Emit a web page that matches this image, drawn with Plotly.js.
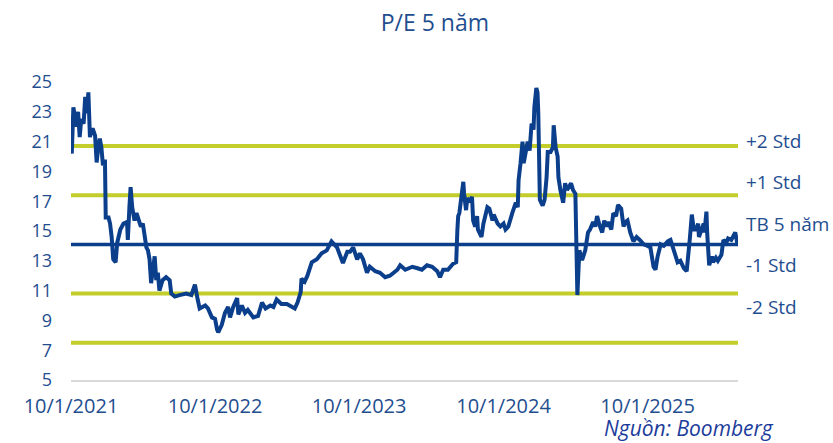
<!DOCTYPE html>
<html>
<head>
<meta charset="utf-8">
<script src="https://cdn.plot.ly/plotly-3.0.1.min.js"></script>
<style>html,body{margin:0;padding:0;background:#fff;}#chart{width:833px;height:443px;}</style>
</head>
<body>
<div id="chart"></div>
<script>
// P/E series (dates, values)
var dates = [
'2021-10-01','2021-10-03','2021-10-07','2021-10-11','2021-10-15','2021-10-19','2021-10-23','2021-10-27',
'2021-11-02','2021-11-06','2021-11-10','2021-11-14','2021-11-18','2021-11-22','2021-11-26',
'2021-12-01','2021-12-05','2021-12-09','2021-12-13','2021-12-17','2021-12-21','2021-12-26','2021-12-28',
'2022-01-04','2022-01-08','2022-01-12','2022-01-16','2022-01-22','2022-01-26',
'2022-02-03','2022-02-11','2022-02-20','2022-02-22','2022-02-26',
'2022-03-01','2022-03-05','2022-03-11','2022-03-16','2022-03-23','2022-03-27',
'2022-04-01','2022-04-06','2022-04-10','2022-04-14','2022-04-18','2022-04-22','2022-04-26',
'2022-05-01','2022-05-05','2022-05-09','2022-05-13','2022-05-21','2022-05-30',
'2022-06-08','2022-06-12','2022-06-21',
'2022-07-03','2022-07-20',
'2022-08-02','2022-08-11','2022-08-18','2022-08-23',
'2022-09-06','2022-09-13','2022-09-23',
'2022-10-01','2022-10-06','2022-10-09','2022-10-18','2022-10-26',
'2022-11-03','2022-11-08','2022-11-16','2022-11-26','2022-11-29',
'2022-12-08','2022-12-16','2022-12-23',
'2023-01-06','2023-01-18','2023-01-28',
'2023-02-06','2023-02-18','2023-02-26',
'2023-03-06','2023-03-18',
'2023-04-01','2023-04-13','2023-04-21','2023-04-28',
'2023-05-06','2023-05-08','2023-05-16','2023-05-23',
'2023-06-03','2023-06-16','2023-06-28',
'2023-07-11','2023-07-18','2023-07-23',
'2023-08-06','2023-08-13','2023-08-21',
'2023-09-01','2023-09-08','2023-09-16','2023-09-26',
'2023-10-03','2023-10-11','2023-10-21','2023-10-28',
'2023-11-11','2023-11-23',
'2023-12-06','2023-12-18',
'2024-01-06','2024-01-13','2024-01-26',
'2024-02-13','2024-02-26',
'2024-03-08','2024-03-21',
'2024-04-03','2024-04-16','2024-04-23',
'2024-05-01','2024-05-13','2024-05-26',
'2024-06-03','2024-06-06','2024-06-08','2024-06-11','2024-06-18','2024-06-21','2024-06-23','2024-06-28',
'2024-07-01','2024-07-08','2024-07-13','2024-07-16','2024-07-21','2024-07-26','2024-07-28',
'2024-08-06','2024-08-11','2024-08-16','2024-08-21','2024-08-26',
'2024-09-03','2024-09-06','2024-09-16','2024-09-23',
'2024-10-01','2024-10-06','2024-10-13','2024-10-23',
'2024-11-01','2024-11-06','2024-11-08','2024-11-13','2024-11-18','2024-11-21','2024-11-26',
'2024-12-01','2024-12-06','2024-12-11','2024-12-16','2024-12-18','2024-12-23','2024-12-26','2024-12-28',
'2025-01-01','2025-01-08','2025-01-13','2025-01-18','2025-01-21','2025-01-28',
'2025-02-03','2025-02-05','2025-02-10','2025-02-15','2025-02-17','2025-02-22',
'2025-03-01','2025-03-06','2025-03-11','2025-03-21','2025-03-26',
'2025-04-01','2025-04-03','2025-04-06','2025-04-11','2025-04-18','2025-04-26',
'2025-05-03','2025-05-08','2025-05-16','2025-05-21','2025-05-26',
'2025-06-01','2025-06-08','2025-06-13','2025-06-18','2025-06-23',
'2025-07-01','2025-07-06','2025-07-13','2025-07-18','2025-07-26',
'2025-08-01','2025-08-06','2025-08-11','2025-08-18','2025-08-26',
'2025-09-03','2025-09-11','2025-09-21',
'2025-10-01','2025-10-08','2025-10-16','2025-10-21','2025-10-26',
'2025-11-03','2025-11-11','2025-11-21','2025-11-28',
'2025-12-06','2025-12-11','2025-12-16','2025-12-23',
'2026-01-01','2026-01-08','2026-01-11','2026-01-16','2026-01-21','2026-01-26',
'2026-02-01','2026-02-06','2026-02-08','2026-02-15','2026-02-20','2026-02-22','2026-02-27',
'2026-03-01','2026-03-06','2026-03-13','2026-03-16','2026-03-23','2026-03-28',
'2026-04-06','2026-04-11','2026-04-18','2026-04-23',
'2026-05-01','2026-05-06','2026-05-11','2026-05-16','2026-05-18'
];
var pe = [
21.0,20.2,23.3,22.5,22.0,23.0,21.3,22.5,
22.2,24.0,22.9,24.3,21.3,21.8,21.8,
21.4,19.6,20.6,21.2,20.6,19.4,19.8,15.9,
15.9,15.5,14.6,13.1,12.9,14.2,
15.1,15.5,15.6,14.4,16.6,
17.95,16.6,15.7,16.2,15.7,15.3,
15.5,14.6,13.9,13.7,13.1,11.5,12.4,
13.3,11.7,12.2,11.0,11.7,11.9,
11.7,10.8,10.6,
10.7,10.8,
10.7,11.4,10.4,9.8,
10.0,9.8,9.2,
9.1,8.4,8.2,8.7,9.5,
9.9,9.2,9.9,10.5,9.4,
10.0,9.5,9.7,
9.2,9.3,10.2,
9.8,10.0,9.9,
10.4,10.1,
10.1,9.9,9.8,10.2,
10.9,11.8,11.6,12.0,
12.9,13.1,13.5,
13.7,14.1,14.3,
13.9,13.4,12.85,
13.6,13.6,13.9,13.1,
13.5,13.1,12.2,12.6,
12.3,12.2,
11.9,12.0,
12.4,12.7,12.4,
12.6,12.5,
12.4,12.7,
12.6,12.3,11.9,
12.4,12.4,12.8,
12.9,15.1,16.0,16.2,17.5,18.3,17.5,16.4,
17.2,16.95,17.3,15.7,15.3,16.0,15.1,
14.6,15.5,16.0,16.6,16.5,
15.7,16.1,15.5,15.3,
15.5,15.1,15.3,16.2,
16.9,16.6,18.4,19.55,21.0,19.55,20.4,
21.0,20.4,22.2,21.8,23.3,24.6,24.3,22.9,
17.1,16.7,17.1,18.6,20.3,20.3,
20.6,22.1,20.6,20.0,18.6,17.75,
16.9,18.2,17.75,18.2,17.75,
17.5,13.9,10.7,13.7,13.05,13.7,
14.9,15.1,15.6,15.3,16.0,
15.4,14.9,15.7,15.3,15.6,
15.1,16.2,16.0,16.75,16.5,
15.3,15.6,15.7,14.9,14.3,
14.6,14.4,14.1,
14.0,13.9,12.6,12.4,13.25,
14.1,14.0,14.3,14.4,
13.8,13.25,12.9,13.0,
12.5,12.3,13.4,14.5,16.1,15.1,
15.1,15.5,14.6,15.1,15.5,14.9,16.3,
14.8,12.7,13.3,12.9,13.2,13.0,
13.4,14.4,14.2,14.5,
14.4,14.6,14.9,14.2,14.6
];
// Reference levels: +2 Std, +1 Std, 5-year mean, -1 Std, -2 Std
var levelNames = ['+2 Std', '+1 Std', 'TB 5 năm', '-1 Std', '-2 Std'];
var levelValues = [20.7, 17.4, 14.1, 10.8, 7.5];
var xTickLabelStart = '2021-10-01';

var BLUE = '#0b3f8c';
var GREEN = '#c3cd2c';
var TEXT = '#1f4e8f';
var FONT = '"Open Sans", "Noto Sans", sans-serif';

var first = dates[0], last = dates[dates.length - 1];
var traces = [];
levelValues.forEach(function (v, i) {
  traces.push({
    x: [first, last], y: [v, v], type: 'scatter', mode: 'lines',
    line: {color: i === 2 ? BLUE : GREEN, width: i === 2 ? 3.5 : 4},
    hoverinfo: 'skip', showlegend: false
  });
});
traces.push({
  x: dates, y: pe, type: 'scatter', mode: 'lines',
  line: {color: BLUE, width: 4, shape: 'linear'}, showlegend: false
});

var labelY = [0.803, 0.665, 0.523, 0.386, 0.246];
var annotations = levelNames.map(function (t, i) {
  return {
    text: t, xref: 'paper', yref: 'paper', x: 1, y: labelY[i],
    xanchor: 'left', yanchor: 'middle', xshift: 6, showarrow: false,
    font: {family: FONT, size: 19, color: TEXT}
  };
});
annotations.push({
  text: '<i>Nguồn: Boomberg</i>', xref: 'paper', yref: 'paper',
  x: 0.797, y: -0.211, xanchor: 'left', yanchor: 'bottom', showarrow: false,
  borderpad: 0,
  font: {family: FONT, size: 21, color: '#1c3c9c'}
});

var layout = {
  width: 833, height: 443,
  margin: {l: 71, r: 95, t: 82, b: 63},
  paper_bgcolor: '#ffffff', plot_bgcolor: '#ffffff',
  title: {
    text: 'P/E 5 năm', xref: 'container', yref: 'container',
    x: 0.522, xanchor: 'center', y: 0.948, yanchor: 'middle',
    font: {family: FONT, size: 23, color: TEXT}
  },
  xaxis: {
    type: 'date', range: [first, last],
    tick0: xTickLabelStart, dtick: 'M12', tickformat: '%-m/%-d/%Y',
    showgrid: false, zeroline: false, showline: true,
    linecolor: '#d9d9d9', linewidth: 2, ticks: '',
    ticklabelstandoff: 7,
    tickfont: {family: FONT, size: 20, color: TEXT}
  },
  yaxis: {
    range: [5, 25], tick0: 5, dtick: 2,
    showgrid: false, zeroline: false, showline: false, ticks: '',
    ticklabelstandoff: 18,
    tickfont: {family: FONT, size: 18, color: TEXT}
  },
  annotations: annotations,
  showlegend: false
};

Plotly.newPlot('chart', traces, layout, {displayModeBar: false, staticPlot: true});
</script>
</body>
</html>
